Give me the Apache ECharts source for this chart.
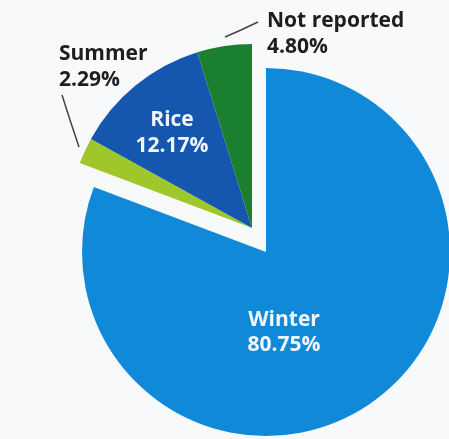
<!DOCTYPE html>
<html>
<head>
<meta charset="utf-8">
<script src="https://cdn.jsdelivr.net/npm/echarts@6/dist/echarts.min.js"></script>
<style>
html,body{margin:0;padding:0;background:#f8f9fb;}
#chart{width:449px;height:439px;}
</style>
</head>
<body>
<div id="chart"></div>
<script>
// Data
const categories = ['Winter', 'Summer', 'Rice', 'Not reported'];
const shares = [80.75, 2.29, 12.17, 4.80];
const colors = ['#108ad8', '#9fc62a', '#1557ae', '#1a7f2e'];
const explodedGroup = ['Summer', 'Rice', 'Not reported'];
const insideLabels = ['Winter', 'Rice'];

const FONT = '"Open Sans", "DejaVu Sans", sans-serif';
const labelFmt = p => p.name + '\n' + p.value.toFixed(2) + '%';
const CLEAR = 'rgba(0,0,0,0)';

// main pie: Winter visible, others transparent
const mainData = categories.map((c, i) => ({
  name: c, value: shares[i],
  itemStyle: { color: explodedGroup.includes(c) ? CLEAR : colors[i] },
  label: { show: !explodedGroup.includes(c) }
}));
// exploded group pie
const groupData = categories.map((c, i) => {
  const inGroup = explodedGroup.includes(c);
  const inside = insideLabels.includes(c);
  return {
    name: c, value: shares[i],
    itemStyle: { color: inGroup ? colors[i] : CLEAR },
    label: { show: inGroup, color: inside ? '#f2f6fa' : '#1e1e1e' },
    labelLine: { show: inGroup && !inside }
  };
});

// label placement for the exploded group (style/layout, not data)
const groupLabelLayout = {
  'Rice': { x: 172, y: 133, align: 'center', verticalAlign: 'middle' },
  'Summer': { x: 59, y: 67, align: 'left', verticalAlign: 'middle',
    labelLinePoints: [[79, 147], [70, 120], [62, 95]] },
  'Not reported': { x: 267, y: 34, align: 'left', verticalAlign: 'middle',
    labelLinePoints: [[225, 37], [241, 30], [258, 22]] }
};

const chart = echarts.init(document.getElementById('chart'));
chart.setOption({
  backgroundColor: '#f8f9fb',
  animation: false,
  series: [
    {
      type: 'pie', silent: true,
      center: [266, 252], radius: 184,
      startAngle: 90, clockwise: true,
      data: mainData,
      label: {
        position: 'inside', formatter: labelFmt,
        color: '#f2f6fa', fontFamily: FONT, fontWeight: 'bold',
        fontSize: 21, lineHeight: 25, offset: [-36, 2]
      },
      labelLine: { show: false }
    },
    {
      type: 'pie', silent: true,
      center: [252, 228], radius: 184,
      startAngle: 90, clockwise: true,
      data: groupData,
      label: {
        position: 'outside', formatter: labelFmt, overflow: 'none',
        fontFamily: FONT, fontWeight: 'bold',
        fontSize: 21, lineHeight: 26, align: 'left'
      },
      labelLine: { lineStyle: { color: '#444', width: 1.5 } },
      labelLayout: p => groupLabelLayout[categories[p.dataIndex]] || {}
    }
  ]
});
</script>
</body>
</html>
